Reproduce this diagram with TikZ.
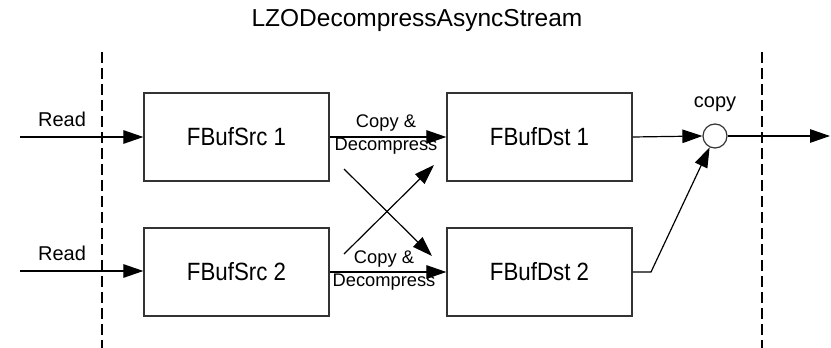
\documentclass[tikz,border=0pt]{standalone}
\usepackage{fontspec}
\usepackage{graphicx}
\setmainfont{Liberation Sans}
\usetikzlibrary{arrows.meta}
\newcommand{\tallbox}[1]{\scalebox{1}[1.12]{#1}}
\begin{document}
\begin{tikzpicture}[x=1pt,y=-1pt,
  box/.style={draw=black!80,line width=1.3pt,minimum width=185pt,minimum height=88pt,inner sep=0pt,font=\fontsize{22.3}{26}\selectfont},
  conn/.style={line width=1.2pt,-{Triangle[length=20pt,width=13.5pt]}},
  lbl/.style={font=\fontsize{20}{24}\selectfont,inner sep=0pt},
  cdl/.style={font=\fontsize{18.3}{23}\selectfont,inner sep=0pt,align=center},
  sep/.style={line width=1.2pt,dash pattern=on 11pt off 5pt}]
\useasboundingbox (0,0) rectangle (831,348);
\node[font=\fontsize{24.5}{28}\selectfont] (title) at (417,20) {LZODecompressAsyncStream};
% separators
\coordinate (l1) at (102,52); \coordinate (l2) at (102,348);
\coordinate (r1) at (762,52); \coordinate (r2) at (762,348);
\draw[sep] (l1) -- (l2);
\draw[sep] (r1) -- (r2);
% boxes
\node[box] (s1) at (236.5,137) {\tallbox{FBufSrc 1}};
\node[box] (d1) at (539.5,137) {\tallbox{FBufDst 1}};
\node[box] (s2) at (236.5,272) {\tallbox{FBufSrc 2}};
\node[box] (d2) at (539.5,272) {\tallbox{FBufDst 2}};
\node[circle,draw=black!80,line width=1.2pt,minimum size=24pt,inner sep=0pt] (cp) at (715,136) {};
% labels
\node[lbl] (rd1) at (62,119) {Read};
\node[lbl] (rd2) at (62,253) {Read};
\node[lbl] (cpl) at (715,104) {copy};
\node[cdl] (cd1) at (386,135) {Copy \&\\Decompress};
\node[cdl] (cd2) at (384,271) {Copy \&\\Decompress};
% coordinates
\coordinate (in1) at (20,137);
\coordinate (in2) at (20,271);
\coordinate (xa1) at (344,169); \coordinate (xa2) at (432,256);
\coordinate (xb1) at (344,254); \coordinate (xb2) at (434,165);
\coordinate (bend) at (651,272);
\coordinate (out) at (830,136);
% connectors
\draw[conn] (in1) -- (s1.west);
\draw[conn] (in2) -- (s2.west |- in2);
\draw[conn] (s1.east) -- (d1.west);
\draw[conn] (s2.east) -- (d2.west);
\draw[conn] (xa1) -- (xa2);
\draw[conn] (xb1) -- (xb2);
\draw[conn] (d1.east) -- (cp.west);
\draw[conn] (d2.east) -- (bend) -- (cp);
\draw[conn] (cp.east) -- (out);
\end{tikzpicture}
\end{document}
